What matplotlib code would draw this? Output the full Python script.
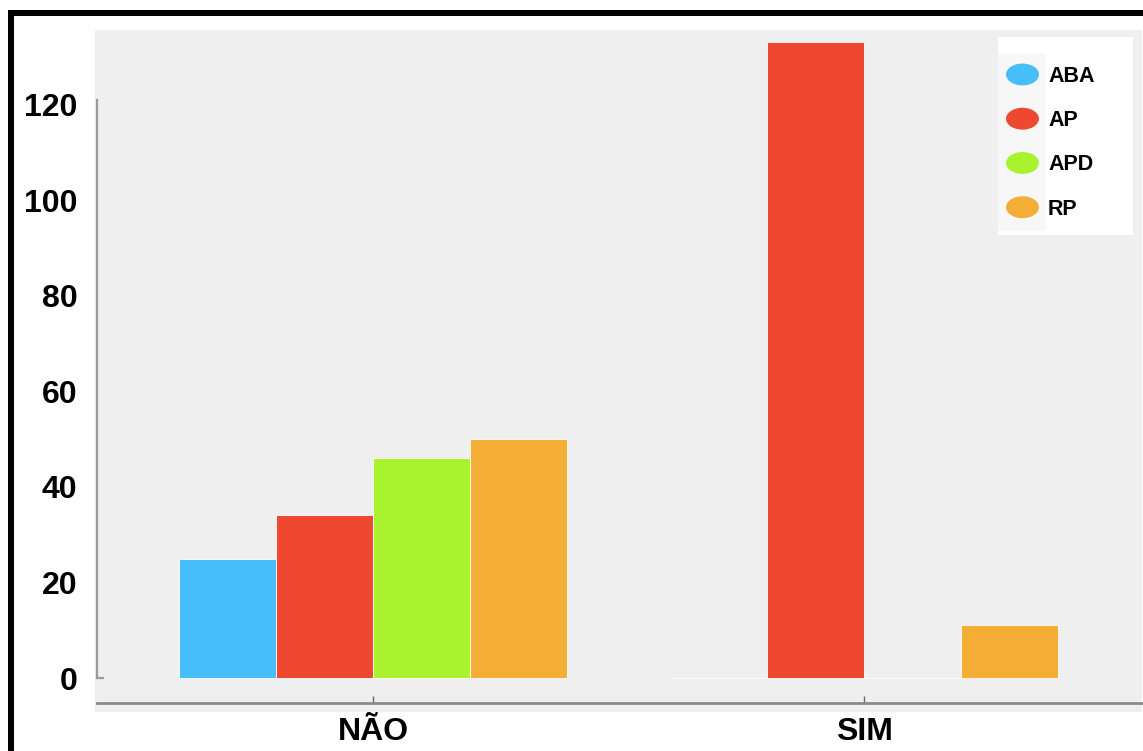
import matplotlib
matplotlib.use("Agg")
import matplotlib.pyplot as plt
import numpy as np
from matplotlib.patches import Rectangle, Ellipse
from matplotlib.legend_handler import HandlerPatch

plt.rcParams['font.family'] = ['Liberation Sans', 'DejaVu Sans']

categories = ["NÃO", "SIM"]
series = ["ABA", "AP", "APD", "RP"]
values = {
    "ABA": [25, 0],
    "AP": [34, 133],
    "APD": [46, 0],
    "RP": [50, 11],
}
colors = {"ABA": "#47BEFA", "AP": "#EE4830", "APD": "#A8F22E", "RP": "#F4AE35"}
yticks = [0, 20, 40, 60, 80, 100, 120]

W, H = 1143, 751
fig = plt.figure(figsize=(W / 100, H / 100), dpi=100)

def fx(px):
    return px / W

def fy(py):
    return 1 - py / H

def frect(x0, y0, x1, y1, color, z):
    fig.patches.append(Rectangle((fx(x0), fy(y1)), fx(x1) - fx(x0), fy(y0) - fy(y1),
                                 transform=fig.transFigure, facecolor=color,
                                 edgecolor="none", zorder=z))

# gray plotting background
frect(95, 30, 1142, 712, "#EFEFEF", -5)
# black border top and left
frect(8, 10, 14, 751, "black", 5)
frect(8, 10, 1143, 16, "black", 5)
# legend box
frect(998, 37, 1133, 235, "white", 6)
frect(998, 54, 1046, 231, "#F7F7F7", 6)

ax = fig.add_axes([fx(97), fy(703), fx(1142) - fx(97), fy(30) - fy(703)])
ax.patch.set_alpha(0)

x = np.arange(len(categories))
bw = 0.198
for i, s in enumerate(series):
    offs = (i - 1.5) * bw
    ax.bar(x + offs, values[s], width=bw, color=colors[s],
           edgecolor="white", linewidth=0.6, label=s, zorder=3)

px_per_unit = 4.78
ymin = -(703 - 678) / px_per_unit
ymax = (678 - 30) / px_per_unit
ax.set_ylim(ymin, ymax)
xl = (97 - 373) / 491
xr = (1142 - 373) / 491
ax.set_xlim(xl, xr)

for sp in ["top", "right"]:
    ax.spines[sp].set_visible(False)
ax.spines["left"].set_bounds(0, 121)
ax.spines["left"].set_color("#9a9a9a")
ax.spines["left"].set_linewidth(1.6)
ax.spines["bottom"].set_color("#8a8a8a")
ax.spines["bottom"].set_linewidth(2)

ax.set_yticks(yticks)
ax.set_yticklabels([str(t) for t in yticks], fontsize=23, fontweight="bold")
ax.tick_params(axis="y", length=0, pad=14)
# small tick at bottom of y axis
ax.plot([xl, xl + 6 / 491], [0, 0], color="#9a9a9a", lw=1.6, clip_on=False, zorder=4)

ax.set_xticks(x)
ax.set_xticklabels(categories, fontsize=23, fontweight="bold")
ax.tick_params(axis="x", direction="in", length=5, width=1, color="#666666", pad=10)


class HandlerEllipse(HandlerPatch):
    def create_artists(self, legend, orig_handle, xdescent, ydescent, width, height, fontsize, trans):
        center = 0.5 * width - 0.5 * xdescent, 0.5 * height - 0.5 * ydescent
        p = Ellipse(xy=center, width=width, height=height * 1.45)
        self.update_prop(p, orig_handle, legend)
        p.set_transform(trans)
        return [p]


handles = [Rectangle((0, 0), 1, 1, facecolor=colors[s], edgecolor="none") for s in series]
leg = fig.legend(handles, series, loc="upper left",
                 frameon=False, prop={"weight": "bold", "size": 15.5},
                 handler_map={Rectangle: HandlerEllipse()}, handlelength=1.53, handleheight=0.7,
                 labelspacing=1.08, handletextpad=0.42, borderpad=0, borderaxespad=0)
leg.set_bbox_to_anchor((fx(1006), fy(66)), transform=fig.transFigure)
leg.set_zorder(10)

fig.savefig("out.png", dpi=100)
